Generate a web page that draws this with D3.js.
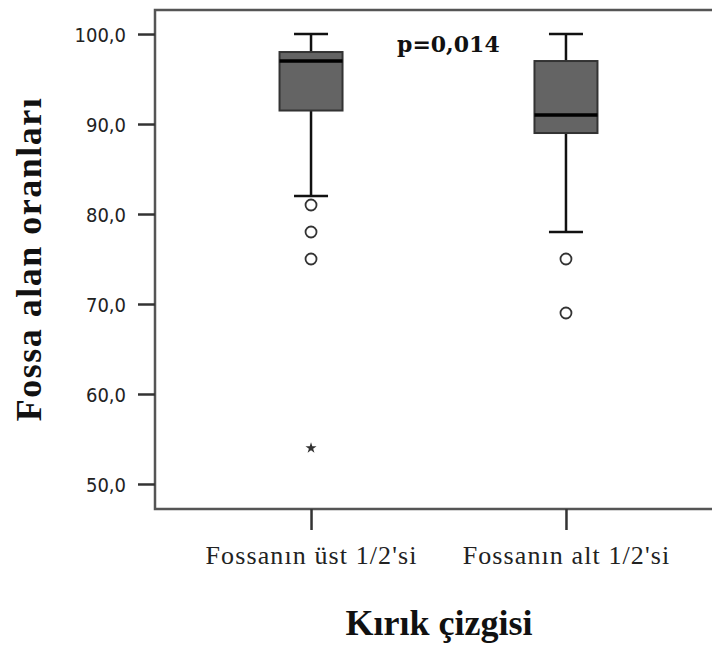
<!DOCTYPE html>
<html>
<head>
<meta charset="utf-8">
<script src="https://cdn.jsdelivr.net/npm/d3@7"></script>
<style>
  body { margin: 0; background: #fff; }
  .tick-label { font-family: 'Liberation Sans Narrow', 'DejaVu Sans Condensed', sans-serif; font-stretch: condensed; font-size: 20px; fill: #222; }
  .cat-label { font-family: 'Liberation Serif', serif; font-size: 26px; letter-spacing: 1.1px; fill: #222; }
  .title { font-family: 'Liberation Serif', serif; font-weight: bold; font-size: 36px; fill: #111; }
</style>
</head>
<body>
<div id="chart"></div>
<script>
// ------------- data ----------------- //
const categories = ["Fossanın üst 1/2'si", "Fossanın alt 1/2'si"];
const whiskerLow = [82, 78];
const q1 = [91.5, 89];
const median = [97, 91];
const q3 = [98, 97];
const whiskerHigh = [100, 100];
const outliers = [[81, 78, 75], [75, 69]];
const extremes = [[54], []];
const yTicks = [50, 60, 70, 80, 90, 100];
const pText = 'p=0,014';

const W = 712, H = 646;
const margin = { top: 10, right: -10, bottom: 137, left: 155 };
const width = W - margin.left - margin.right,
  height = H - margin.top - margin.bottom;

const svg = d3.select('#chart')
  .append('svg')
  .attr('width', W)
  .attr('height', H);

const g = svg.append('g')
  .attr('transform', 'translate(' + margin.left + ',' + margin.top + ')');

const x = d3.scalePoint().domain(categories).range([0, width]).padding(0.612);
const y = d3.scaleLinear().domain([47.22, 102.67]).range([height, 0]);

// frame
g.append('path')
  .attr('d', 'M' + (width + 5) + ',0H0V' + height + 'H' + (width + 5))
  .attr('fill', 'none')
  .attr('stroke', '#555')
  .attr('stroke-width', 2.5);

// y axis
const yAxis = d3.axisLeft(y).tickValues(yTicks).tickSize(17).tickPadding(12)
  .tickFormat(d => d3.format('.1f')(d).replace('.', ','));
const ya = g.append('g').call(yAxis);
ya.select('.domain').remove();
ya.selectAll('.tick line').attr('stroke', '#333').attr('stroke-width', 2.5);
ya.selectAll('.tick text').attr('class', 'tick-label').attr('dy', '0.36em');

// x axis
const xAxis = d3.axisBottom(x).tickSize(21).tickPadding(16);
const xa = g.append('g').attr('transform', 'translate(0,' + height + ')').call(xAxis);
xa.select('.domain').remove();
xa.selectAll('.tick line').attr('stroke', '#333').attr('stroke-width', 2.5);
xa.selectAll('.tick text').attr('class', 'cat-label').attr('dy', '0.71em');

// boxes
const boxW = 63, capW = 34;
categories.forEach(function (c, i) {
  const cx = x(c);
  // whisker
  g.append('line')
    .attr('x1', cx).attr('x2', cx)
    .attr('y1', y(whiskerLow[i])).attr('y2', y(whiskerHigh[i]))
    .attr('stroke', '#111').attr('stroke-width', 2.5);
  [whiskerLow[i], whiskerHigh[i]].forEach(function (v) {
    g.append('line')
      .attr('x1', cx - capW / 2).attr('x2', cx + capW / 2)
      .attr('y1', y(v)).attr('y2', y(v))
      .attr('stroke', '#111').attr('stroke-width', 2.5);
  });
  g.append('rect')
    .attr('x', cx - boxW / 2).attr('width', boxW)
    .attr('y', y(q3[i])).attr('height', y(q1[i]) - y(q3[i]))
    .attr('fill', '#646464').attr('stroke', '#333').attr('stroke-width', 2);
  g.append('line')
    .attr('x1', cx - boxW / 2).attr('x2', cx + boxW / 2)
    .attr('y1', y(median[i])).attr('y2', y(median[i]))
    .attr('stroke', '#000').attr('stroke-width', 3.5);

  outliers[i].forEach(function (v) {
    g.append('circle')
      .attr('cx', cx).attr('cy', y(v)).attr('r', 5.5)
      .attr('fill', '#fff').attr('stroke', '#333').attr('stroke-width', 1.8);
  });
  extremes[i].forEach(function (v) {
    g.append('path')
      .attr('d', d3.symbol(d3.symbolStar, 38)())
      .attr('transform', 'translate(' + cx + ',' + y(v) + ')')
      .attr('fill', '#333');
  });
});

// p value
svg.append('text')
  .attr('x', 397).attr('y', 52)
  .attr('font-family', "'DejaVu Serif', serif")
  .attr('font-weight', 'bold')
  .attr('font-size', 22)
  .attr('fill', '#111')
  .text(pText);

// axis titles
svg.append('text')
  .attr('class', 'title')
  .attr('text-anchor', 'middle')
  .attr('x', 439).attr('y', 635)
  .text('Kırık çizgisi');

svg.append('text')
  .attr('class', 'title')
  .attr('text-anchor', 'middle')
  .attr('letter-spacing', 1.5)
  .attr('transform', 'translate(41,259) rotate(-90)')
  .text('Fossa alan oranları');
</script>
</body>
</html>
